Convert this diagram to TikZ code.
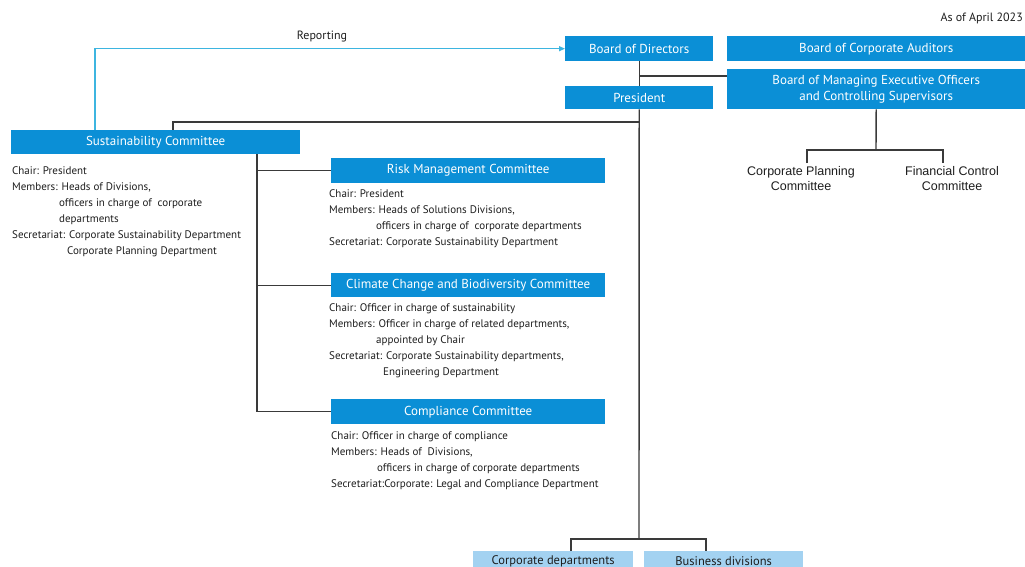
\documentclass[tikz,border=0pt]{standalone}
\usepackage{fontspec}
\setmainfont{PT Sans}
\newfontfamily\arialf{Liberation Sans}
\usetikzlibrary{arrows.meta}
\definecolor{mblue}{HTML}{0B8FD6}
\definecolor{lblue}{HTML}{A3D2F1}
\definecolor{rblue}{HTML}{3DB5E0}
\definecolor{lgray}{HTML}{3A3A3A}
\definecolor{tgray}{HTML}{1E1E1E}
\begin{document}
\begin{tikzpicture}[x=1pt,y=-1pt,
  bbox/.style={fill=mblue, text=white, inner sep=0pt, anchor=north west, font=\fontsize{13}{15}\selectfont},
  lbox/.style={fill=lblue, text=tgray, inner sep=0pt, anchor=north west, font=\fontsize{12.5}{14}\selectfont},
  info/.style={anchor=north west, inner sep=0pt, align=left, text=tgray, font=\fontsize{11}{16}\selectfont},
  conn/.style={draw=lgray, line width=1.4pt},
  rep/.style={draw=rblue, line width=1.2pt, -{Triangle[length=6pt,width=5pt]}},
  plain/.style={inner sep=0pt, text=tgray, font=\fontsize{12}{13}\selectfont},
  subc/.style={inner sep=0pt, anchor=north, align=center, text=tgray, font=\arialf\fontsize{12.5}{15}\selectfont}]
\useasboundingbox (0,0) rectangle (1025,567);
\fill[white] (0,0) rectangle (1025,567);

% top-level boxes
\node[bbox, minimum width=148pt, minimum height=25pt] (bod) at (565,36) {Board of Directors};
\node[bbox, minimum width=298pt, minimum height=25pt] (boca) at (727,36) {Board of Corporate Auditors};
\node[bbox, minimum width=148pt, minimum height=23pt] (pres) at (565,86) {President};
\node[bbox, minimum width=298pt, minimum height=40pt, align=center, font=\fontsize{13}{16}\selectfont] (bmeo) at (727,69) {Board of Managing Executive Officers\\and Controlling Supervisors};

\node[plain, anchor=east] (asof) at (1023,18) {As of April 2023};
\node[plain] (replab) at (322,37) {Reporting};

% committees
\node[bbox, minimum width=289pt, minimum height=24pt] (sust) at (11,130) {Sustainability Committee};
\node[bbox, minimum width=274pt, minimum height=25pt] (risk) at (331,158) {Risk Management Committee};
\node[bbox, minimum width=274pt, minimum height=24pt] (clim) at (331,273) {Climate Change and Biodiversity Committee};
\node[bbox, minimum width=274pt, minimum height=25pt] (comp) at (331,399) {Compliance Committee};

% bottom boxes
\node[lbox, minimum width=160pt, minimum height=20pt] (cdep) at (473,551) {Corporate departments};
\node[lbox, minimum width=159pt, minimum height=20pt] (bdiv) at (644,551) {Business divisions};

% sub committees of BMEO
\node[subc] (cpc) at (801,166) {Corporate Planning\\Committee};
\node[subc] (fcc) at (952,166) {Financial Control\\Committee};

% info texts
\node[info] (sinfo) at (12,166) {Chair: President\\
Members: Heads of Divisions,\\
\hspace*{47pt}officers in charge of\ \ corporate\\
\hspace*{47pt}departments\\
Secretariat: Corporate Sustainability Department\\
\hspace*{55pt}Corporate Planning Department};

\node[info] (rinfo) at (329,189) {Chair: President\\
Members: Heads of Solutions Divisions,\\
\hspace*{47pt}officers in charge of\ \ corporate departments\\
Secretariat: Corporate Sustainability Department};

\node[info] (cinfo) at (329,303) {Chair: Officer in charge of sustainability\\
Members: Officer in charge of related departments,\\
\hspace*{47pt}appointed by Chair\\
Secretariat: Corporate Sustainability departments,\\
\hspace*{54pt}Engineering Department};

\node[info] (cpinfo) at (331,431) {Chair: Officer in charge of compliance\\
Members: Heads of\ \ Divisions,\\
\hspace*{46pt}officers in charge of corporate departments\\
Secretariat:Corporate: Legal and Compliance Department};

% connectors
\coordinate (j1) at (639,76);
\coordinate (j2) at (639,122);
\coordinate (j3) at (639,539);
\coordinate (cdtop) at (571,551);
\coordinate (bdtop) at (706,551);
\coordinate (sj) at (173,122);
\coordinate (vtop) at (257,154);
\coordinate (bj) at (876,150);
\coordinate (cpj) at (807,163);
\coordinate (fcj) at (943,163);

\draw[conn] (bod.south) -- (pres.north);
\draw[conn] (j1) -- (j1 -| bmeo.west);
\draw[conn] (pres.south) -- (j3);
\draw[conn] (cdtop) |- (j3) -| (bdtop);
\draw[conn] (j2) -- (sj) -- (sj |- sust.north);
\draw[conn] (vtop) -- (vtop |- comp.west) -- (comp.west);
\draw[conn] (vtop |- risk.west) -- (risk.west);
\draw[conn] (vtop |- clim.west) -- (clim.west);
\draw[conn] (bmeo.south) -- (bj);
\draw[conn] (cpj) |- (bj) -| (fcj);

\draw[rep] (sust.north -| 95,0) |- (bod.west);
\end{tikzpicture}
\end{document}
